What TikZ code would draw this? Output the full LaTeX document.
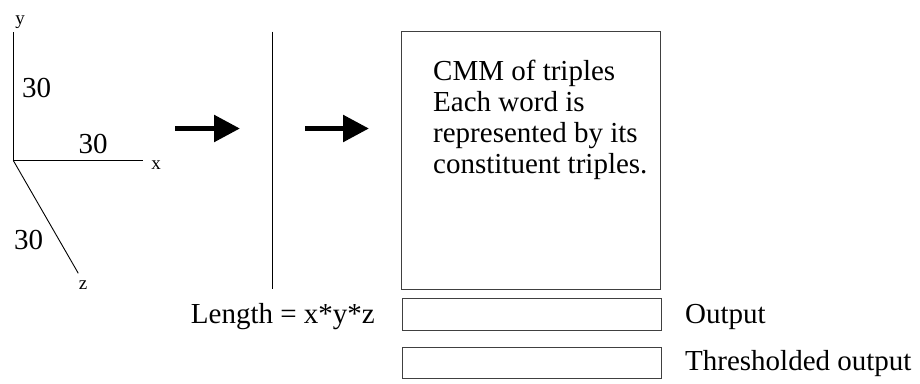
\documentclass[tikz,border=0pt]{standalone}
\usepackage{fontspec}
\setmainfont{Liberation Serif}
\usetikzlibrary{arrows.meta}
\begin{document}
\begin{tikzpicture}[x=1bp,y=-1bp,
  big/.style={font=\fontsize{29bp}{31bp}\selectfont, inner sep=0pt},
  small/.style={font=\fontsize{19bp}{21bp}\selectfont, inner sep=0pt},
  axis/.style={line width=1bp},
  boxline/.style={draw=black!75, line width=1bp},
  fatarrow/.style={line width=5.5bp, -{Triangle[length=26bp,width=26bp]}}]
\useasboundingbox (0,0) rectangle (920,383);
% axes
\coordinate (O) at (13.3,160.5);
\coordinate (ytip) at (13.3,31.5);
\coordinate (xtip) at (142.7,160.5);
\coordinate (ztip) at (78.3,273.3);
\draw[axis] (O) -- (ytip);
\draw[axis] (O) -- (xtip);
\draw[line width=0.9bp] (O) -- (ztip);
\node[small, anchor=base] (ylab) at (20,24) {y};
\node[small, anchor=base] (xlab) at (156,169) {x};
\node[small, anchor=base] (zlab) at (83,289) {z};
\node[big, anchor=base] (ylen) at (36.5,97) {30};
\node[big, anchor=base] (xlen) at (93,153) {30};
\node[big, anchor=base] (zlen) at (28.5,249) {30};
% arrows and separator
\coordinate (a1s) at (175,128.5);
\coordinate (a1e) at (240,128.5);
\coordinate (a2s) at (305,128.5);
\coordinate (a2e) at (369,128.5);
\draw[fatarrow] (a1s) -- (a1e);
\draw[fatarrow] (a2s) -- (a2e);
\coordinate (vtop) at (272.5,31.5);
\coordinate (vbot) at (272.5,289);
\draw[axis] (vtop) -- (vbot);
% boxes
\draw[boxline] (401.7,31.5) rectangle (660.7,289) coordinate (cmmbr);
\node[boxline, draw, minimum width=259bp, minimum height=32bp, inner sep=0pt, anchor=north west] (out) at (401.7,298) {};
\node[boxline, draw, minimum width=259bp, minimum height=31bp, inner sep=0pt, anchor=north west] (thr) at (401.7,347) {};
\node[big, anchor=base west] (l1) at (433,80) {CMM of triples};
\node[big, anchor=base west] (l2) at (433,111) {Each word is};
\node[big, anchor=base west] (l3) at (433,142) {represented by its};
\node[big, anchor=base west] (l4) at (433,173) {constituent triples.};
\node[big, anchor=base east] (len) at (375,323) {Length = x*y*z};
\node[big, anchor=base west] (outlab) at (685,323) {Output};
\node[big, anchor=base west] (thrlab) at (685,370) {Thresholded output};
\end{tikzpicture}
\end{document}
